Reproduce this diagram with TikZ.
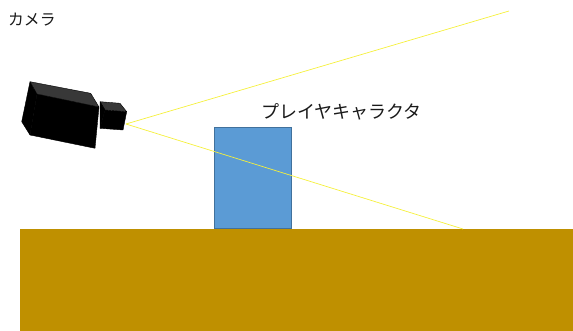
\documentclass[tikz,border=0pt]{standalone}
\usepackage{fontspec}
\newfontfamily\jpfont{Noto Sans CJK JP}
\definecolor{groundcol}{HTML}{BF9000}
\definecolor{playerfill}{HTML}{5B9BD5}
\definecolor{playerline}{HTML}{41719C}
\definecolor{beamcol}{HTML}{F5F03C}
\definecolor{camtop}{HTML}{383838}

\begin{document}
\begin{tikzpicture}
  [
    x                  = 1pt,
    y                  = -1pt,
    ground/.style      = {fill=groundcol, inner sep=0pt, outer sep=0pt, anchor=north west},
    player/.style      = {fill=playerfill, draw=playerline, line width=0.8pt, inner sep=0pt, anchor=south west},
    beam/.style        = {draw=beamcol, line width=0.7pt},
    body/.style        = {fill=black, draw=black, line width=0.4pt, line join=round},
    bodytop/.style     = {fill=camtop, draw=black, line width=0.4pt, line join=round},
    caption/.style     = {font=\jpfont, inner sep=0pt, anchor=west, text=black!90}
  ]
  \useasboundingbox (0,0) rectangle (573,331);

  % floor and the character standing on it
  \node[ground, minimum width=553pt, minimum height=102pt] (ground) at (20,229) {};
  \node[player, minimum width=77pt, minimum height=101pt] (player) at (214,229) {};

  % view lines of the camera
  \coordinate (lens)   at (126,124);
  \coordinate (fartop) at (509,11);
  \coordinate (hit)    at (463,229);
  \draw[beam] (lens) -- (fartop);
  \draw[beam] (lens) -- (hit);

  % camera body
  \draw[body]    (30,81.7) -- (37,94) -- (30,135) -- (21.7,121.7) -- cycle;
  \draw[body]    (37,94) -- (99,107) -- (95,148.3) -- (30,135) -- cycle;
  \draw[bodytop] (30,81.7) -- (90.7,93.3) -- (99,107) -- (37,94) -- cycle;
  % camera lens part
  \draw[body]    (105,110) -- (126.7,111.7) -- (123,130) -- (100,128.3) -- cycle;
  \draw[bodytop] (100,101.7) -- (120,103.3) -- (126.7,111.7) -- (105,110) -- cycle;
  \draw[body]    (100,101.7) -- (105,110) -- (100,128.3) -- cycle;

  % labels
  \node[caption, font=\jpfont\fontsize{15.8}{16}\selectfont] (camlabel) at (8,20) {カメラ};
  \node[caption, font=\jpfont\fontsize{18}{18}\selectfont] (playerlabel) at (261,112) {プレイヤキャラクタ};
\end{tikzpicture}
\end{document}
